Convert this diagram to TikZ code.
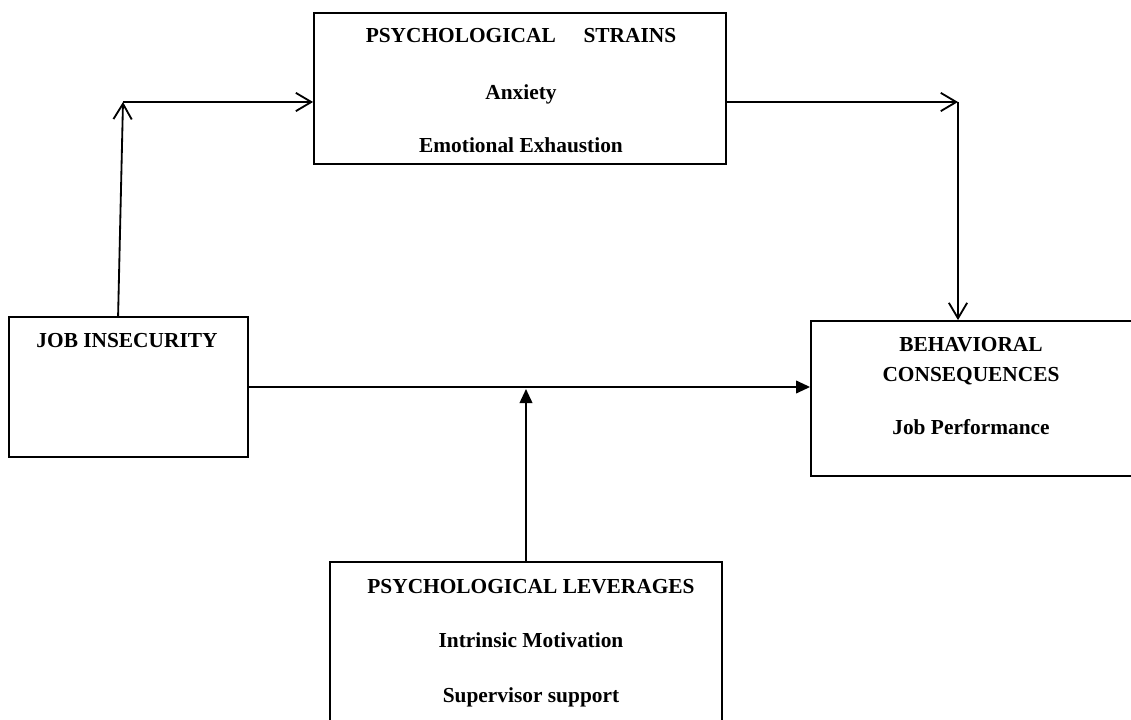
\documentclass[tikz,border=0pt]{standalone}
\usepackage{fontspec}
\setmainfont{Liberation Serif}
\usetikzlibrary{calc,fit,arrows.meta}
\tikzset{
  box/.style={draw, line width=1.3pt, inner sep=0pt},
  txt/.style={font=\bfseries\fontsize{15.2}{18}\selectfont, inner sep=0pt, anchor=base},
  openarrow/.style={line width=1.3pt, -{Straight Barb[length=11pt,width=13pt,line width=1.3pt]}},
  fillarrow/.style={line width=1.3pt, -{Triangle[length=10pt,width=9pt]}}
}

\begin{document}
\begin{tikzpicture}[x=0.025cm, y=-0.025cm]
			%%%%% START %%%%%
			\useasboundingbox (0,0) rectangle (1131,720);
			\clip (0,0) rectangle (1131,720);
			
			\node (strains) [box, fit={(314,13) (726,164)}] {};
			\node (ji) [box, fit={(9,317) (248,457)}] {};
			\node (behav) [box, fit={(811,321) (1135,476)}] {};
			\node (lever) [box, fit={(330,562) (722,724)}] {};
			
			\node[txt] (strainstitle) at (521,43) {PSYCHOLOGICAL\hspace{1.3em}STRAINS};
			\node[txt] (anxiety) at (521,100) {Anxiety};
			\node[txt] (exhaust) at (521,153) {Emotional Exhaustion};
			
			\node[txt] (jititle) at (127,348) {JOB INSECURITY};
			
			\node[txt] (behavtitle) at (971,352) {BEHAVIORAL};
			\node[txt] (conseq) at (971,382) {CONSEQUENCES};
			\node[txt] (perform) at (971,435) {Job Performance};
			
			\node[txt] (levertitle) at (531,593) {PSYCHOLOGICAL LEVERAGES};
			\node[txt] (motiv) at (531,647) {Intrinsic Motivation};
			\node[txt] (support) at (531,702) {Supervisor support};
			
			\coordinate (jiup) at (123,102);
			\coordinate (bend) at (958,102);
			\coordinate (meet) at (526,389);
			
			\draw[openarrow] ($(ji.north west)+(110,0)$) -- (jiup);
			\draw[openarrow] (jiup) -- (jiup -| strains.west);
			\draw[openarrow] (strains.east |- bend) -- (bend);
			\draw[openarrow] (bend) -- (bend |- behav.north);
			
			\draw[fillarrow] (ji.east) -- (ji.east -| behav.west);
			\draw[fillarrow] (lever.north -| meet) -- (meet);
			%%%%% END %%%%%
\end{tikzpicture}
\end{document}
